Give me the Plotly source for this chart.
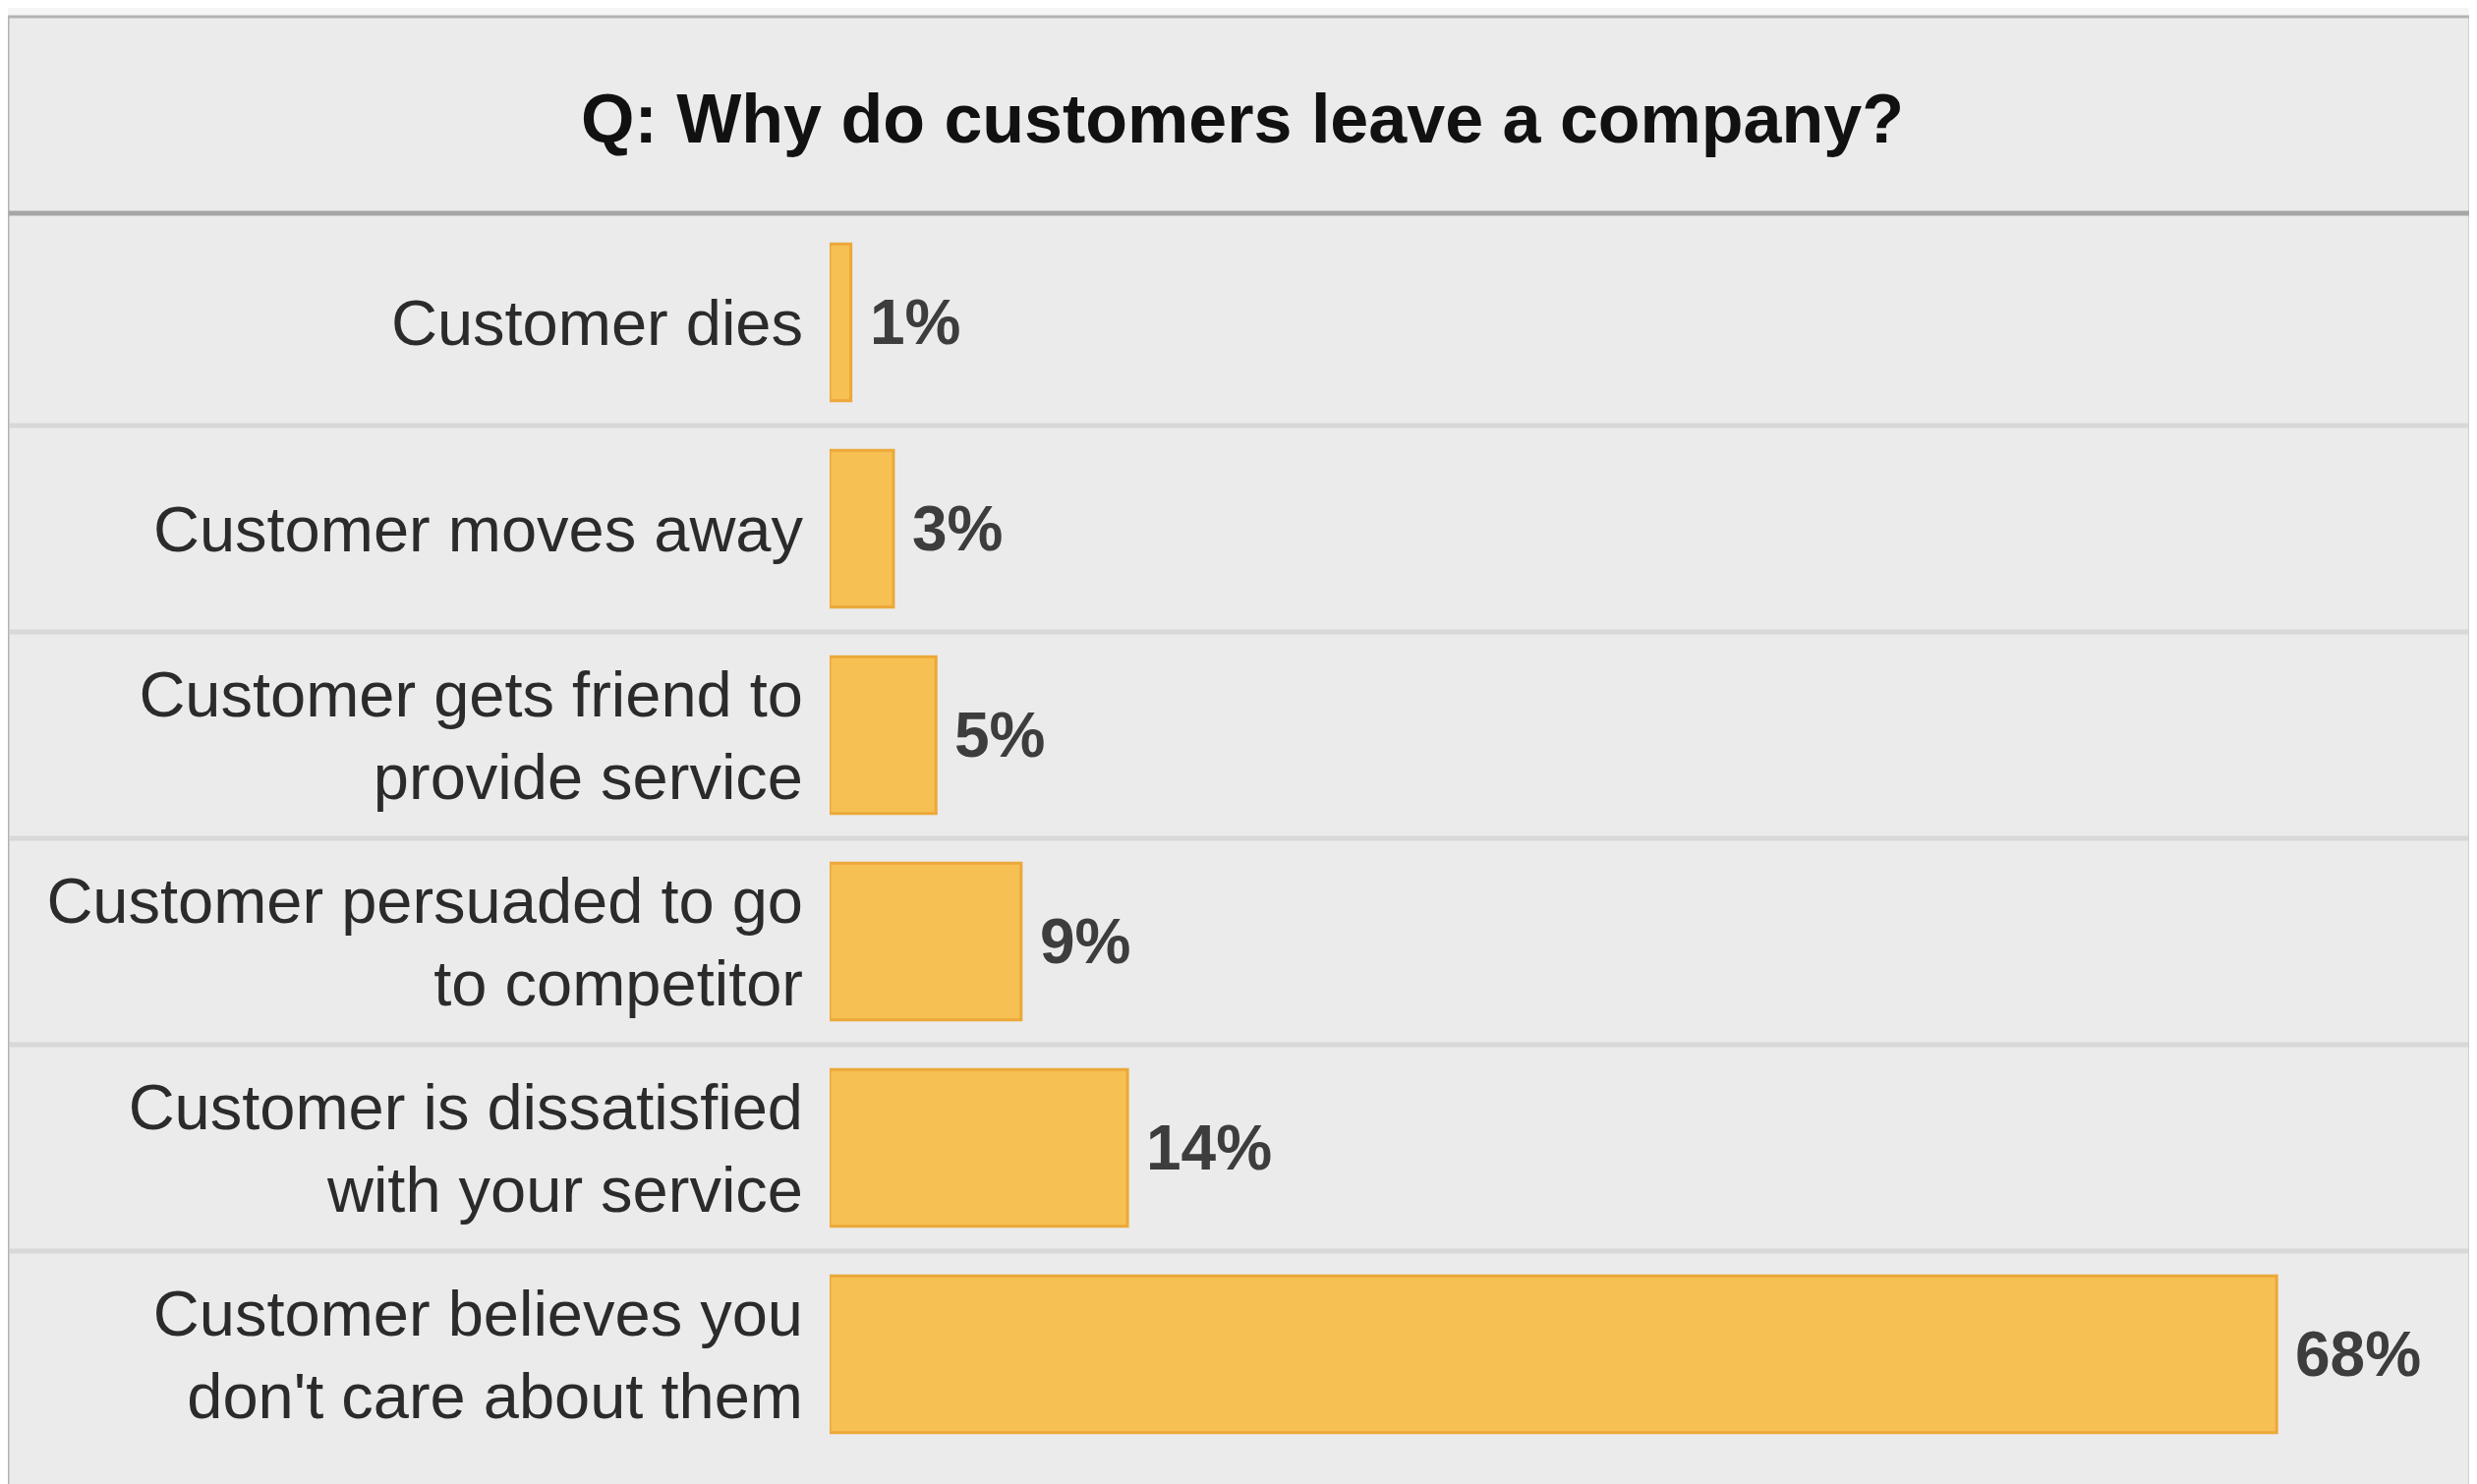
import plotly.graph_objects as go

# ---- data ----
categories = [
    "Customer dies",
    "Customer moves away",
    "Customer gets friend to<br>provide service",
    "Customer persuaded to go<br>to competitor",
    "Customer is dissatisfied<br>with your service",
    "Customer believes you<br>don't care about them",
]
values = [1, 3, 5, 9, 14, 68]
value_labels = ["1%", "3%", "5%", "9%", "14%", "68%"]
title_text = "Q: Why do customers leave a company?"

# ---- geometry helpers (reference pixel -> paper) ----
OFF = 8  # page body margin
W_FIG, H_FIG = 2520 - OFF, 1510 - OFF
L, R, T, B = 844 - OFF, 7, 223 - OFF, 27
PW = W_FIG - L - R
PH = H_FIG - T - B


def px_x(p):
    return (p - OFF - L) / PW


def px_y(p):
    return (H_FIG - B - (p - OFF)) / PH


FONT = "Liberation Sans, Arial, sans-serif"

fig = go.Figure()
fig.add_trace(go.Bar(
    x=values,
    y=categories,
    orientation="h",
    width=0.76,
    marker=dict(color="#f7c052", line=dict(color="#eca83a", width=3)),
    hoverinfo="skip",
))

annotations = []
for v, c, lab in zip(values, categories, value_labels):
    annotations.append(dict(
        x=v, y=c, xref="x", yref="y", text="<b>" + lab + "</b>",
        showarrow=False, xanchor="left", yanchor="middle", xshift=17,
        font=dict(family=FONT, size=64, color="#3d3d3d"),
    ))

shapes = []
# outer panel
shapes.append(dict(
    type="rect", xref="paper", yref="paper", layer="below",
    x0=px_x(8), x1=px_x(2513), y0=px_y(1540), y1=px_y(17),
    fillcolor="#ebebeb", line=dict(color="#b3b3b3", width=3),
))
# header separator
shapes.append(dict(
    type="line", xref="paper", yref="paper", layer="below",
    x0=px_x(9), x1=px_x(2512), y0=px_y(217), y1=px_y(217),
    line=dict(color="#a6a6a6", width=5),
))
# row separators
for i in range(len(categories) - 1):
    shapes.append(dict(
        type="line", xref="paper", yref="y", layer="below",
        x0=px_x(10), x1=px_x(2511), y0=i + 0.5, y1=i + 0.5,
        line=dict(color="#d8d8d8", width=5),
    ))

fig.update_layout(
    width=W_FIG, height=H_FIG, autosize=False,
    margin=dict(l=L, r=R, t=T, b=B, pad=0),
    paper_bgcolor="#f5f5f5",
    plot_bgcolor="rgba(0,0,0,0)",
    showlegend=False,
    title=dict(
        text="<b>" + title_text + "</b>",
        x=(1264 - OFF) / W_FIG, xref="container", xanchor="center",
        y=1 - (120 - OFF) / H_FIG, yref="container", yanchor="middle",
        font=dict(family=FONT, size=70, color="#111111"),
    ),
    xaxis=dict(range=[0, PW / 21.65], visible=False, fixedrange=True),
    yaxis=dict(
        categoryorder="array", categoryarray=categories,
        autorange="reversed",
        showgrid=False, zeroline=False, showline=False,
        ticks="", ticklabelstandoff=26,
        tickfont=dict(family=FONT, size=65, color="#2b2b2b"),
        fixedrange=True,
    ),
    shapes=shapes,
    annotations=annotations,
)

fig.write_html("out.html")
